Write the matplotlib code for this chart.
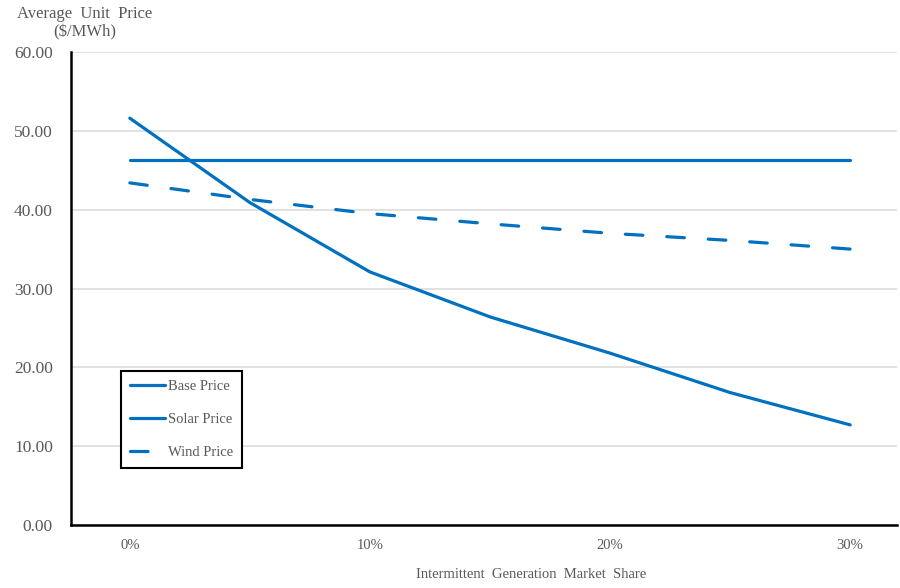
import matplotlib.pyplot as plt

plt.rcParams["font.family"] = ["Liberation Serif", "DejaVu Serif"]

shares = ["0%", "5%", "10%", "15%", "20%", "25%", "30%"]
base_price = [46.3, 46.3, 46.3, 46.3, 46.3, 46.3, 46.3]
solar_price = [51.6, 40.9, 32.1, 26.4, 21.8, 16.8, 12.7]
wind_price = [43.4, 41.3, 39.5, 38.2, 37.0, 36.1, 35.0]

blue = "#0070C0"
grey = "#595959"

fig = plt.figure(figsize=(9, 5.88), dpi=100)
ax = fig.add_axes([71 / 900, 1 - 525 / 588, (897 - 71) / 900, (525 - 52) / 588])

x = list(range(len(shares)))
ax.plot(x, base_price, color=blue, lw=2.3, solid_capstyle="round", label="Base Price")
ax.plot(x, solar_price, color=blue, lw=2.3, solid_capstyle="round", label="Solar Price")
ax.plot(x, wind_price, color=blue, lw=2.3, dashes=(5.5, 7.5), dash_capstyle="round",
        label="Wind Price")

ax.set_ylim(0, 60)
ax.set_yticks(range(0, 61, 10))
ax.set_yticklabels([f"{v:.2f}" for v in range(0, 61, 10)], fontsize=12.5, color=grey)
ax.set_xlim(-0.49, 6.39)
ax.set_xticks(x[::2])
ax.set_xticklabels(shares[::2], fontsize=10.5, color=grey)
ax.tick_params(axis="y", length=0, pad=13)
ax.tick_params(axis="x", length=0, pad=10)

ax.grid(axis="y", color="#d9d9d9", lw=1.1)
ax.set_axisbelow(True)
for side in ["top", "right"]:
    ax.spines[side].set_visible(False)
for side in ["left", "bottom"]:
    ax.spines[side].set_color("black")
    ax.spines[side].set_linewidth(1.8)

# axis titles (Excel-style, placed in figure pixels)
fig.text(85 / 900, 1 - 14 / 588, "Average  Unit  Price", ha="center", va="center",
         fontsize=12, color=grey)
fig.text(85 / 900, 1 - 32 / 588, "($/MWh)", ha="center", va="center",
         fontsize=12, color=grey)
fig.text(531 / 900, 1 - 575 / 588, "Intermittent  Generation  Market  Share", ha="center",
         va="center", fontsize=10.5, color=grey)

leg = ax.legend(loc="upper left", bbox_to_anchor=(121 / 900, 1 - 371 / 588),
                bbox_transform=fig.transFigure, borderaxespad=0, fontsize=10.5,
                fancybox=False, framealpha=1, edgecolor="black", handlelength=2.4,
                handletextpad=0.25, labelspacing=1.35, borderpad=0.6, labelcolor=grey)
leg.get_frame().set_linewidth(1.5)

fig.savefig("out.png", dpi=100)
